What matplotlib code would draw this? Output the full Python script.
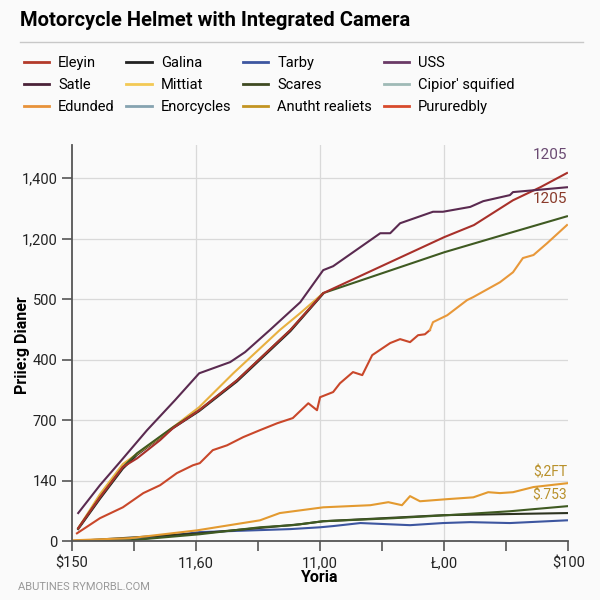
import matplotlib.pyplot as plt
from matplotlib.lines import Line2D

# series drawn on the chart (x in axis units, y in chart units)
uss_x = [0.10, 0.45, 0.77, 1.21, 1.66, 2.05, 2.55, 2.79, 3.19, 3.68, 4.05, 4.21, 4.97, 5.13, 5.29, 5.82, 5.98, 6.42, 6.63, 7.06, 7.11, 7.44, 7.98]
uss_y = [93, 185, 261, 367, 466, 555, 592, 625, 698, 790, 896, 909, 1018, 1018, 1051, 1089, 1089, 1105, 1124, 1144, 1154, 1160, 1170]

eleyin_x = [0.10, 0.45, 0.82, 1.05, 1.42, 1.63, 2.05, 2.66, 3.52, 4.05, 6.00, 6.48, 7.11, 7.55, 7.98]
eleyin_y = [43, 145, 245, 274, 334, 374, 433, 532, 698, 820, 1005, 1045, 1127, 1170, 1217]

scares_x = [0.10, 0.45, 0.82, 1.05, 1.63, 2.05, 2.66, 3.52, 4.05, 6.00, 7.11, 7.98]
scares_y = [43, 145, 245, 291, 377, 433, 532, 698, 820, 955, 1022, 1074]

galina_x = [0.10, 0.45, 0.82, 1.05, 1.63, 2.05, 2.66, 3.52, 4.05]
galina_y = [40, 140, 240, 286, 374, 430, 528, 694, 818]

mittiat_x = [0.10, 0.45, 0.82, 1.42, 2.05, 2.60, 3.35, 3.68, 4.05]
mittiat_y = [43, 155, 255, 344, 443, 555, 698, 754, 820]

pururedbly_x = [0.08, 0.45, 0.82, 1.15, 1.42, 1.69, 1.95, 2.06, 2.27, 2.50, 2.76, 3.03, 3.31, 3.56, 3.81, 3.95, 4.00, 4.21, 4.32, 4.53, 4.68, 4.84, 5.13, 5.29, 5.45, 5.58, 5.69, 5.77]
pururedbly_y = [26, 76, 112, 159, 185, 225, 251, 258, 301, 317, 344, 367, 390, 407, 456, 433, 476, 493, 522, 559, 549, 615, 655, 668, 658, 681, 684, 698]

edunded_x = [5.77, 5.82, 6.05, 6.37, 6.47, 6.90, 7.11, 7.27, 7.44, 7.66, 7.98]
edunded_y = [698, 724, 747, 797, 807, 856, 889, 936, 946, 985, 1045]

anutht_x = [0.02, 0.94, 2.02, 3.03, 3.35, 4.05, 4.81, 5.10, 5.32, 5.45, 5.61, 6.05, 6.47, 6.71, 6.90, 7.11, 7.44, 8.00]
anutht_y = [3, 10, 36, 69, 93, 112, 119, 129, 119, 149, 132, 139, 145, 162, 159, 162, 179, 192]

flat_x = [0.0, 2.06, 3.68, 4.05, 5.98, 7.98]
flat_y = [0, 26, 56, 66, 86, 93]

low_green_x = [0.0, 0.94, 2.06, 3.03, 3.56, 4.05, 5.18, 6.05, 7.06, 8.00]
low_green_y = [0, 3, 23, 46, 53, 66, 76, 86, 99, 116]

tarby_x = [0.0, 0.94, 2.06, 3.52, 4.00, 4.21, 4.65, 5.45, 5.98, 6.42, 7.06, 7.98]
tarby_y = [0, 3, 30, 40, 46, 50, 60, 53, 60, 63, 60, 69]

# legend, listed column by column (4 columns x 3 rows)
legend_names = ['Eleyin', 'Satle', 'Edunded',
                'Galina', 'Mittiat', 'Enorcycles',
                'Tarby', 'Scares', 'Anutht realiets',
                'USS', "Cipior' squified", 'Pururedbly']
legend_colors = ['#b33a2a', '#4a2238', '#e8923a',
                 '#222222', '#f3c955', '#86a3b0',
                 '#3d56a0', '#3f4a22', '#c39422',
                 '#6a3a66', '#9fbab6', '#d84a2c']

y_ticks = [0, 200, 400, 600, 800, 1000, 1200]
y_labels = ['0', '140', '700', '400', '500', '1,200', '1,400']
x_ticks = [0, 1, 2, 3, 4, 5, 6, 7, 8]
x_labels = ['$150', '', '11,60', '', '11,00', '', 'Ł,00', '', '$100']

plt.rcParams['font.family'] = ['Roboto', 'DejaVu Sans']

fig = plt.figure(figsize=(6, 6), dpi=100)
fig.patch.set_facecolor('#fafafa')
ax = fig.add_axes([0.12, 0.098, 0.827, 0.66])
ax.set_facecolor('#fafafa')

lw = 1.5
ax.plot(tarby_x, tarby_y, color='#3d56a0', lw=lw)
ax.plot(flat_x, flat_y, color='#2d3320', lw=lw)
ax.plot(low_green_x, low_green_y, color='#3f5a22', lw=lw)
ax.plot(anutht_x, anutht_y, color='#e39a30', lw=lw)
ax.plot(pururedbly_x, pururedbly_y, color='#c9472a', lw=lw)
ax.plot(edunded_x, edunded_y, color='#e8983a', lw=lw)
ax.plot(galina_x, galina_y, color='#222222', lw=lw)
ax.plot(mittiat_x, mittiat_y, color='#e8b040', lw=lw)
ax.plot(scares_x, scares_y, color='#3f5a22', lw=lw)
ax.plot(eleyin_x, eleyin_y, color='#a8302a', lw=lw)
ax.plot(uss_x, uss_y, color='#5a2a50', lw=lw)

ax.text(7.98, 1275, '1205', color='#6a4a72', fontsize=11, ha='right', va='center')
ax.text(7.98, 1130, '1205', color='#8a3a2a', fontsize=11, ha='right', va='center')
ax.text(7.98, 228, '$,2FT', color='#b8902a', fontsize=10, ha='right', va='center')
ax.text(7.98, 152, '$.753', color='#b8902a', fontsize=10, ha='right', va='center')

ax.set_xlim(0, 8)
ax.set_ylim(0, 1309)
ax.set_yticks(y_ticks)
ax.set_yticklabels(y_labels, fontsize=10.5, color='#222222')
ax.set_xticks(x_ticks)
ax.set_xticklabels(x_labels, fontsize=10.5, color='#222222')
ax.tick_params(axis='both', direction='out', length=7, width=1.2, color='#555555')
ax.tick_params(axis='x', pad=4)

ax.grid(axis='y', color='#d9d9d9', lw=0.9)
for gx in [2, 4, 6]:
    ax.axvline(gx, color='#d9d9d9', lw=0.9, zorder=0)
ax.set_axisbelow(True)

for s in ['top', 'right']:
    ax.spines[s].set_visible(False)
for s in ['left', 'bottom']:
    ax.spines[s].set_color('#555555')
    ax.spines[s].set_linewidth(1.3)

ax.set_xlabel('Yoria', fontsize=11.5, fontweight='bold', labelpad=0)
ax.set_ylabel('Priie:g Dianer', fontsize=11.5, fontweight='bold')
ax.yaxis.set_label_coords(-0.085, 0.495)

fig.text(0.033, 0.965, 'Motorcycle Helmet with Integrated Camera', fontsize=14.5,
         fontweight='bold', va='center', ha='left')
fig.add_artist(Line2D([0.033, 0.972], [0.93, 0.93], color='#c8c8c8', lw=1))

handles = [Line2D([], [], color=c, lw=2) for c in legend_colors]
fig.legend(handles, legend_names, ncol=4, loc='upper left',
           bbox_to_anchor=(0.018, 0.928), frameon=False, fontsize=10.5,
           handlelength=1.75, handletextpad=0.6, columnspacing=0.8,
           labelspacing=0.55)

fig.text(0.03, 0.013, 'ABUTINES RYMORBL.COM', fontsize=8, color='#999999',
         ha='left', va='bottom')

fig.savefig('out.png', dpi=100, facecolor=fig.get_facecolor())
